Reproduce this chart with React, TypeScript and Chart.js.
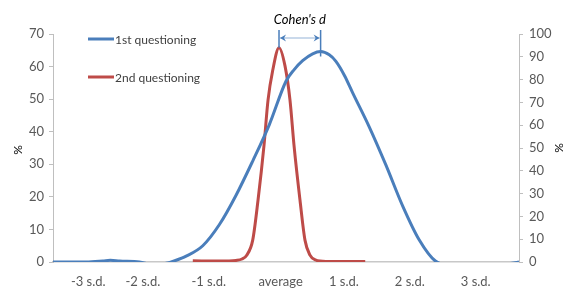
import React, { useEffect, useRef } from "react";
import { Chart, registerables } from "chart.js";

Chart.register(...registerables);

const xTickPositions = [-2.97, -2.15, -1.16, -0.08, 0.87, 1.86, 2.85];
const xTickLabels = ["-3 s.d.", "-2 s.d.", "-1 s.d.", "average", "1 s.d.", "2 s.d.", "3 s.d."];

const blueX = [-3.5, -3.25, -3, -2.75, -2.64, -2.5, -2.2, -2.0, -1.8, -1.67, -1.5, -1.25, -1, -0.75, -0.5, -0.25, 0, 0.12, 0.25, 0.4, 0.52, 0.65, 0.75, 0.88, 1, 1.25, 1.5, 1.75, 2, 2.25, 2.5, 3, 3.25, 3.5];
const blueY = [0, 0, 0, 0.3, 0.5, 0.3, 0, -0.8, -0.4, 0.4, 1.8, 5, 11.5, 20.5, 31, 42.2, 55.5, 59, 61.8, 63.9, 64.6, 63.6, 61.6, 57.2, 52, 41.5, 29.8, 17.3, 6.8, 0.2, -1, -1, -0.8, 0];

const redX = [-1.4, -1.0, -0.75, -0.66, -0.59, -0.5, -0.42, -0.33, -0.27, -0.2, -0.105, -0.015, 0.06, 0.12, 0.21, 0.285, 0.36, 0.44, 0.6, 1.19];
const redY = [0.5, 0.4, 0.7, 1.3, 3, 9.6, 27.2, 51.3, 71, 84, 94, 86, 71, 51.3, 27.2, 9.6, 3, 0.9, 0.2, 0.2];

const seriesNames = ["1st questioning", "2nd questioning"];
const BLUE = "#4a7ebb";
const RED = "#be4b48";
const FONT = "Lato, 'Open Sans', sans-serif";

const overlay = {
  id: "overlay",
  afterDatasetsDraw(chart: any) {
    const ctx = chart.ctx;
    const xs = chart.scales.x;
    const yL = chart.scales.y;
    const yR = chart.scales.y1;
    // Cohen's d annotation
    const ri = redY.indexOf(Math.max(...redY));
    const bi = blueY.indexOf(Math.max(...blueY));
    const x1 = xs.getPixelForValue(redX[ri]);
    const x2 = xs.getPixelForValue(blueX[bi]);
    const yTop = chart.chartArea.top - 4;
    const yRed = yR.getPixelForValue(redY[ri]);
    const yBlue = yL.getPixelForValue(blueY[bi]) + 5;
    ctx.save();
    ctx.strokeStyle = BLUE;
    ctx.lineWidth = 1.5;
    ctx.beginPath();
    ctx.moveTo(x1, yTop);
    ctx.lineTo(x1, yRed);
    ctx.moveTo(x2, yTop);
    ctx.lineTo(x2, yBlue);
    ctx.stroke();
    const ya = yTop + 8;
    ctx.strokeStyle = "#95b3d7";
    ctx.lineWidth = 1;
    ctx.beginPath();
    ctx.moveTo(x1 + 1, ya);
    ctx.lineTo(x2 - 1, ya);
    ctx.stroke();
    ctx.fillStyle = BLUE;
    ctx.beginPath();
    ctx.moveTo(x1 + 1, ya);
    ctx.lineTo(x1 + 7, ya - 3.5);
    ctx.lineTo(x1 + 5, ya);
    ctx.lineTo(x1 + 7, ya + 3.5);
    ctx.closePath();
    ctx.fill();
    ctx.beginPath();
    ctx.moveTo(x2 - 1, ya);
    ctx.lineTo(x2 - 7, ya - 3.5);
    ctx.lineTo(x2 - 5, ya);
    ctx.lineTo(x2 - 7, ya + 3.5);
    ctx.closePath();
    ctx.fill();
    ctx.fillStyle = "#000";
    ctx.font = `italic 13px ${FONT}`;
    ctx.textAlign = "center";
    ctx.textBaseline = "middle";
    ctx.fillText("Cohen's d", (x1 + x2) / 2, 20);

    // legend
    const colors = [BLUE, RED];
    const ys = [39, 77];
    ctx.font = `12px ${FONT}`;
    ctx.textAlign = "left";
    for (let i = 0; i < 2; i++) {
      ctx.strokeStyle = colors[i];
      ctx.lineWidth = 3;
      ctx.beginPath();
      ctx.moveTo(88, ys[i]);
      ctx.lineTo(114, ys[i]);
      ctx.stroke();
      ctx.fillStyle = "#404040";
      ctx.fillText(seriesNames[i], 115, ys[i] + 1);
    }

    // axis titles
    ctx.fillStyle = "#000";
    ctx.font = `12px ${FONT}`;
    ctx.textAlign = "center";
    ctx.save();
    ctx.translate(18, 150);
    ctx.rotate(-Math.PI / 2);
    ctx.fillText("%", 0, 0);
    ctx.restore();
    ctx.save();
    ctx.translate(559, 148);
    ctx.rotate(-Math.PI / 2);
    ctx.fillText("%", 0, 0);
    ctx.restore();
    ctx.restore();
  },
};

export default function App() {
  const ref = useRef<HTMLCanvasElement | null>(null);
  useEffect(() => {
    if (!ref.current) return;
    const chart = new Chart(ref.current, {
      type: "line",
      data: {
        datasets: [
          {
            label: seriesNames[0],
            data: blueX.map((x, i) => ({ x, y: blueY[i] })),
            borderColor: BLUE,
            borderWidth: 3,
            pointRadius: 0,
            cubicInterpolationMode: "monotone",
            yAxisID: "y",
          },
          {
            label: seriesNames[1],
            data: redX.map((x, i) => ({ x, y: redY[i] })),
            borderColor: RED,
            borderWidth: 3,
            pointRadius: 0,
            cubicInterpolationMode: "monotone",
            yAxisID: "y1",
          },
        ],
      },
      options: {
        responsive: false,
        animation: false,
        layout: { padding: { top: 34, left: 0, right: 0, bottom: 0 } },
        plugins: { legend: { display: false }, tooltip: { enabled: false } },
        scales: {
          x: {
            type: "linear",
            min: -3.5,
            max: 3.5,
            afterBuildTicks: (s: any) => {
              s.ticks = xTickPositions.map((v) => ({ value: v }));
            },
            afterFit: (s: any) => {
              s.height = 29;
            },
            ticks: {
              autoSkip: false,
              maxRotation: 0,
              padding: 12,
              color: "#595959",
              font: { family: FONT, size: 13 },
              callback: (v: any) => {
                const i = xTickPositions.indexOf(Number(v));
                return i >= 0 ? xTickLabels[i] : "";
              },
            },
            grid: { display: false, drawTicks: false },
            border: { display: true, color: "#c8c8c8", width: 1.5 },
          },
          y: {
            position: "left",
            min: 0,
            max: 70,
            afterFit: (s: any) => {
              s.width = 53;
            },
            ticks: {
              stepSize: 10,
              padding: 5,
              color: "#595959",
              font: { family: FONT, size: 13 },
            },
            grid: { drawOnChartArea: false, drawTicks: true, tickLength: 4, color: "#bfbfbf" },
            border: { display: true, color: "#bfbfbf" },
          },
          y1: {
            position: "right",
            min: 0,
            max: 100,
            afterFit: (s: any) => {
              s.width = 46;
            },
            ticks: {
              stepSize: 10,
              padding: 6,
              color: "#595959",
              font: { family: FONT, size: 13 },
            },
            grid: { drawOnChartArea: false, drawTicks: true, tickLength: 4, color: "#bfbfbf" },
            border: { display: true, color: "#bfbfbf" },
          },
        },
      },
      plugins: [overlay],
    } as any);
    return () => chart.destroy();
  }, []);
  return (
    <div style={{ position: "absolute", left: 0, top: 0, width: 565, height: 291, background: "#fff" }}>
      <canvas ref={ref} width={565} height={291} style={{ width: 565, height: 291, display: "block" }} />
    </div>
  );
}
